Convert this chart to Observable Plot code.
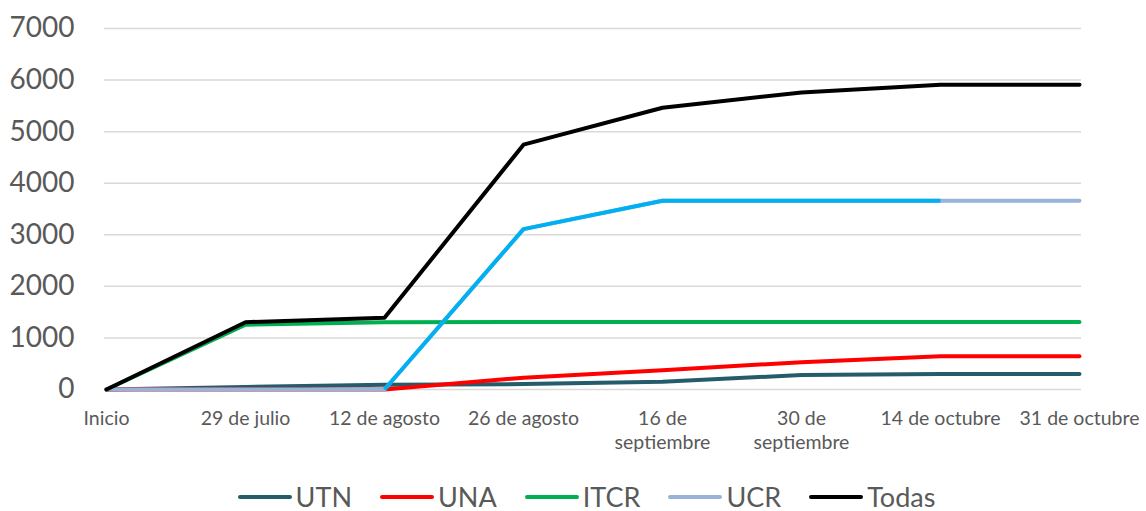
<!DOCTYPE html>
<html>
<head>
<meta charset="utf-8">
<script src="https://cdn.jsdelivr.net/npm/d3@7"></script>
<script src="https://cdn.jsdelivr.net/npm/@observablehq/plot@0.6"></script>
<style>
  html, body { margin: 0; padding: 0; background: #fff; }
  #chart { width: 1146px; font-family: Lato, "Open Sans", sans-serif; }
  .legend { display: flex; justify-content: center; align-items: center; gap: 28px; margin-top: 18px; margin-left: 27px;
            font-family: Lato, "Open Sans", sans-serif; font-size: 27px; color: #595959; }
  .legend .item { display: flex; align-items: center; gap: 4px; }
  .legend .sw { width: 54px; height: 4px; border-radius: 2px; }
</style>
</head>
<body>
<div id="chart"></div>
<script>
const categories = ["Inicio", "29 de julio", "12 de agosto", "26 de agosto", "16 de septiembre", "30 de septiembre", "14 de octubre", "31 de octubre"];
const tickLabels = ["Inicio", "29 de julio", "12 de agosto", "26 de agosto", "16 de\nseptiembre", "30 de\nseptiembre", "14 de octubre", "31 de octubre"];
const seriesNames = ["UTN", "UNA", "ITCR", "UCR", "Todas"];
const utn   = [0, 50, 90, 105, 150, 280, 300, 300];
const una   = [0, 0, 0, 230, 375, 530, 645, 645];
const itcr  = [0, 1255, 1305, 1308, 1310, 1310, 1310, 1310];
const ucr   = [0, 0, 0, 3110, 3660, 3660, 3660, 3660];
const todas = [0, 1305, 1390, 4748, 5463, 5760, 5910, 5910];
const yTicks = [0, 1000, 2000, 3000, 4000, 5000, 6000, 7000];
// UCR segment drawn in the brighter colour in the reference (from 12 de agosto to 14 de octubre)
const ucrHighlightFrom = "12 de agosto";
const ucrHighlightTo = "14 de octubre";

const colors = {UTN: "#245C6B", UNA: "#FF0000", ITCR: "#00B050", UCR: "#97B3DA", Todas: "#000000"};
const ucrHighlightColor = "#00B0F0";

const valuesBySeries = {UTN: utn, UNA: una, ITCR: itcr, UCR: ucr, Todas: todas};
const rows = seriesNames.flatMap(s => categories.map((c, i) => ({series: s, cat: c, value: valuesBySeries[s][i]})));
const i0 = categories.indexOf(ucrHighlightFrom), i1 = categories.indexOf(ucrHighlightTo);
const ucrHi = rows.filter(d => d.series === "UCR" && categories.indexOf(d.cat) >= i0 && categories.indexOf(d.cat) <= i1);

const lineMarks = seriesNames.flatMap(s => {
  const m = [Plot.line(rows.filter(d => d.series === s), {x: "cat", y: "value", stroke: colors[s], strokeWidth: 4, strokeLinecap: "round", strokeLinejoin: "round"})];
  if (s === "UCR") m.push(Plot.line(ucrHi, {x: "cat", y: "value", stroke: ucrHighlightColor, strokeWidth: 4, strokeLinecap: "butt", strokeLinejoin: "round"}));
  return m;
});

const chart = Plot.plot({
  width: 1146,
  height: 462,
  marginLeft: 104,
  marginRight: 65,
  marginTop: 28,
  marginBottom: 73,
  style: {fontFamily: "Lato, 'Open Sans', sans-serif", background: "#fff"},
  x: {type: "point", domain: categories, padding: 0},
  y: {domain: [0, 7000]},
  marks: [
    Plot.gridY(yTicks, {stroke: "#D9D9D9", strokeOpacity: 1, strokeWidth: 1.5}),
    Plot.axisY(yTicks, {tickSize: 0, tickPadding: 30, fontSize: 28, fill: "#595959", label: null, tickFormat: d => String(d)}),
    Plot.axisX({tickSize: 0, tickPadding: 18, fontSize: 19.5, fill: "#595959", label: null, lineHeight: 1.25,
                tickFormat: d => tickLabels[categories.indexOf(d)]}),
    ...lineMarks
  ]
});
document.getElementById("chart").appendChild(chart);

const legend = document.createElement("div");
legend.className = "legend";
for (const s of seriesNames) {
  const it = document.createElement("div");
  it.className = "item";
  const sw = document.createElement("span");
  sw.className = "sw";
  sw.style.background = colors[s];
  const tx = document.createElement("span");
  tx.textContent = s;
  it.appendChild(sw); it.appendChild(tx);
  legend.appendChild(it);
}
document.getElementById("chart").appendChild(legend);
</script>
</body>
</html>
